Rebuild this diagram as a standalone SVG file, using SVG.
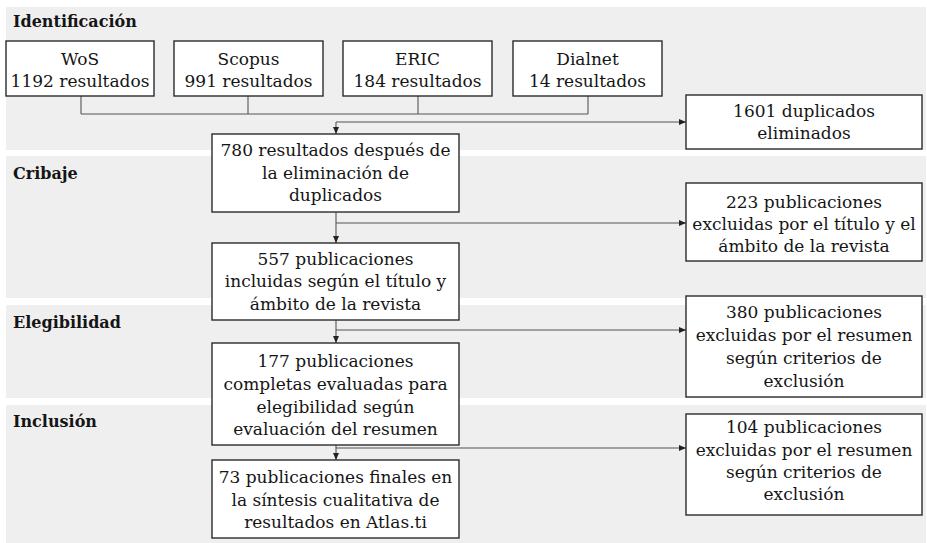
<svg xmlns="http://www.w3.org/2000/svg" width="927" height="543" viewBox="0 0 927 543">
<defs>
<style>
.band{fill:#efefef;stroke:none}
.box{fill:#fff;stroke:#2b2b2b;stroke-width:1.4}
.t{font-family:'DejaVu Serif','Liberation Serif',serif;font-size:17px;fill:#151515;text-anchor:middle}
.h{font-family:'DejaVu Serif','Liberation Serif',serif;font-size:16px;font-weight:bold;fill:#151515}
.c{fill:none;stroke:#555;stroke-width:1.1}
</style>
<marker id="ar" markerWidth="7" markerHeight="6" refX="7" refY="3" orient="auto" markerUnits="userSpaceOnUse">
<path d="M0,0 L7,3 L0,6 Z" fill="#222"/>
</marker>
</defs>
<rect width="927" height="543" fill="#fff"/>
<g id="bands">
<rect class="band" x="6" y="7" width="920" height="143"/>
<rect class="band" x="6" y="156" width="920" height="142"/>
<rect class="band" x="6" y="305" width="920" height="93"/>
<rect class="band" x="6" y="405" width="920" height="138"/>
<text class="h" x="13" y="27">Identificación</text>
<text class="h" x="13" y="179">Cribaje</text>
<text class="h" x="13" y="328">Elegibilidad</text>
<text class="h" x="13" y="427">Inclusión</text>
</g>
<g id="connectors">
<path class="c" d="M81,96 V114 M248,96 V114 M418,96 V114 M588,96 V114 M81,114 H588"/>
<path class="c" d="M336,122 V134" marker-end="url(#ar)"/>
<path class="c" d="M336,122 H686" marker-end="url(#ar)"/>
<path class="c" d="M336,212 V243" marker-end="url(#ar)"/>
<path class="c" d="M336,223 H686" marker-end="url(#ar)"/>
<path class="c" d="M336,320 V343" marker-end="url(#ar)"/>
<path class="c" d="M336,330 H686" marker-end="url(#ar)"/>
<path class="c" d="M336,445 V460" marker-end="url(#ar)"/>
<path class="c" d="M336,448 H686" marker-end="url(#ar)"/>
</g>
<g id="wos">
<rect class="box" x="6" y="41" width="148" height="55"/>
<text class="t" x="80" y="65">WoS</text>
<text class="t" x="80" y="87">1192 resultados</text>
</g>
<g id="scopus">
<rect class="box" x="174" y="41" width="149" height="55"/>
<text class="t" x="248.5" y="65">Scopus</text>
<text class="t" x="248.5" y="87">991 resultados</text>
</g>
<g id="eric">
<rect class="box" x="343" y="41" width="149" height="55"/>
<text class="t" x="417.5" y="65">ERIC</text>
<text class="t" x="417.5" y="87">184 resultados</text>
</g>
<g id="dialnet">
<rect class="box" x="513" y="41" width="149" height="55"/>
<text class="t" x="587.5" y="65">Dialnet</text>
<text class="t" x="587.5" y="87">14 resultados</text>
</g>
<g id="duplicados">
<rect class="box" x="686" y="95" width="236" height="54"/>
<text class="t" x="804" y="117">1601 duplicados</text>
<text class="t" x="804" y="139">eliminados</text>
</g>
<g id="r780">
<rect class="box" x="212" y="134" width="247" height="78"/>
<text class="t" x="335.5" y="156">780 resultados después de</text>
<text class="t" x="335.5" y="178.5">la eliminación de</text>
<text class="t" x="335.5" y="201">duplicados</text>
</g>
<g id="x223">
<rect class="box" x="686" y="183" width="236" height="78"/>
<text class="t" x="804" y="208">223 publicaciones</text>
<text class="t" x="804" y="230">excluidas por el título y el</text>
<text class="t" x="804" y="252">ámbito de la revista</text>
</g>
<g id="p557">
<rect class="box" x="212" y="243" width="247" height="77"/>
<text class="t" x="335.5" y="265">557 publicaciones</text>
<text class="t" x="335.5" y="287">incluidas según el título y</text>
<text class="t" x="335.5" y="309.5">ámbito de la revista</text>
</g>
<g id="x380">
<rect class="box" x="686" y="296" width="236" height="101"/>
<text class="t" x="804" y="318">380 publicaciones</text>
<text class="t" x="804" y="341">excluidas por el resumen</text>
<text class="t" x="804" y="364">según criterios de</text>
<text class="t" x="804" y="386.5">exclusión</text>
</g>
<g id="p177">
<rect class="box" x="212" y="343" width="247" height="102"/>
<text class="t" x="335.5" y="367">177 publicaciones</text>
<text class="t" x="335.5" y="390">completas evaluadas para</text>
<text class="t" x="335.5" y="412.5">elegibilidad según</text>
<text class="t" x="335.5" y="435">evaluación del resumen</text>
</g>
<g id="x104">
<rect class="box" x="686" y="414" width="236" height="101"/>
<text class="t" x="804" y="433">104 publicaciones</text>
<text class="t" x="804" y="456">excluidas por el resumen</text>
<text class="t" x="804" y="478">según criterios de</text>
<text class="t" x="804" y="500">exclusión</text>
</g>
<g id="p73">
<rect class="box" x="212" y="460" width="247" height="78"/>
<text class="t" x="335.5" y="483">73 publicaciones finales en</text>
<text class="t" x="335.5" y="505.5">la síntesis cualitativa de</text>
<text class="t" x="335.5" y="528">resultados en Atlas.ti</text>
</g>
</svg>
